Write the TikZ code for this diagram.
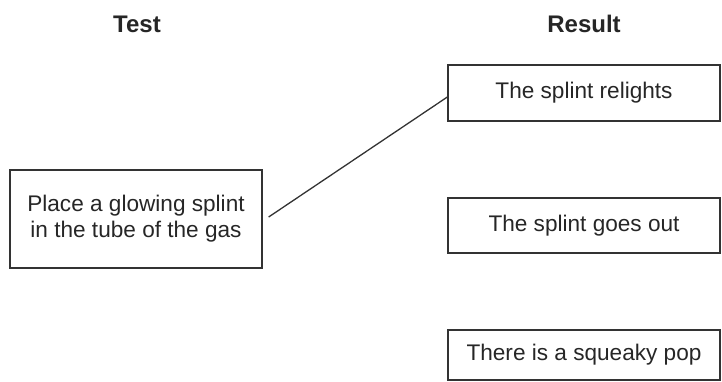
\documentclass[tikz,border=0pt]{standalone}
\usepackage{fontspec}
\setmainfont{Liberation Sans}
\usetikzlibrary{positioning}
\definecolor{inkgray}{HTML}{262626}
\definecolor{edgegray}{HTML}{333333}

\begin{document}
\begin{tikzpicture}[
  x=1pt, y=-1pt,
  link/.style={line width=1.3pt, edgegray},
]

% =============================================
% Styles
% =============================================
\tikzset{
  testbox/.style 2 args={
    draw=edgegray, line width=1.3pt, text=inkgray,
    font=\fontsize{22.6}{26}\selectfont,
    align=center, inner sep=0pt,
    minimum width=#1, minimum height=#2,
  },
  heading/.style={font=\fontsize{24}{28}\selectfont\bfseries, text=inkgray},
}

% =============================================
% Frame
% =============================================
\useasboundingbox (0,0) rectangle (722,381);

% =============================================
% Column headings
% =============================================
\node[heading] (testhead) at (137,24) {Test};
\node[heading] (resulthead) at (584,24) {Result};

% =============================================
% Test box (left)
% =============================================
\node[testbox={252pt}{98pt}] (splint) at (136,219)
  {Place a glowing splint\\in the tube of the gas};

% =============================================
% Result boxes (right)
% =============================================
\node[testbox={272pt}{56pt}] (relights) at (584,93) {The splint relights};
\node[testbox={272pt}{55pt}] (goesout) at (584,225.5) {The splint goes out};
\node[testbox={272pt}{50pt}] (pop) at (584,355) {There is a squeaky pop};

% =============================================
% Matching line
% =============================================
\draw[link] ([xshift=6pt, yshift=2pt]splint.east) -- ([yshift=-4pt]relights.west);

\end{tikzpicture}
\end{document}
